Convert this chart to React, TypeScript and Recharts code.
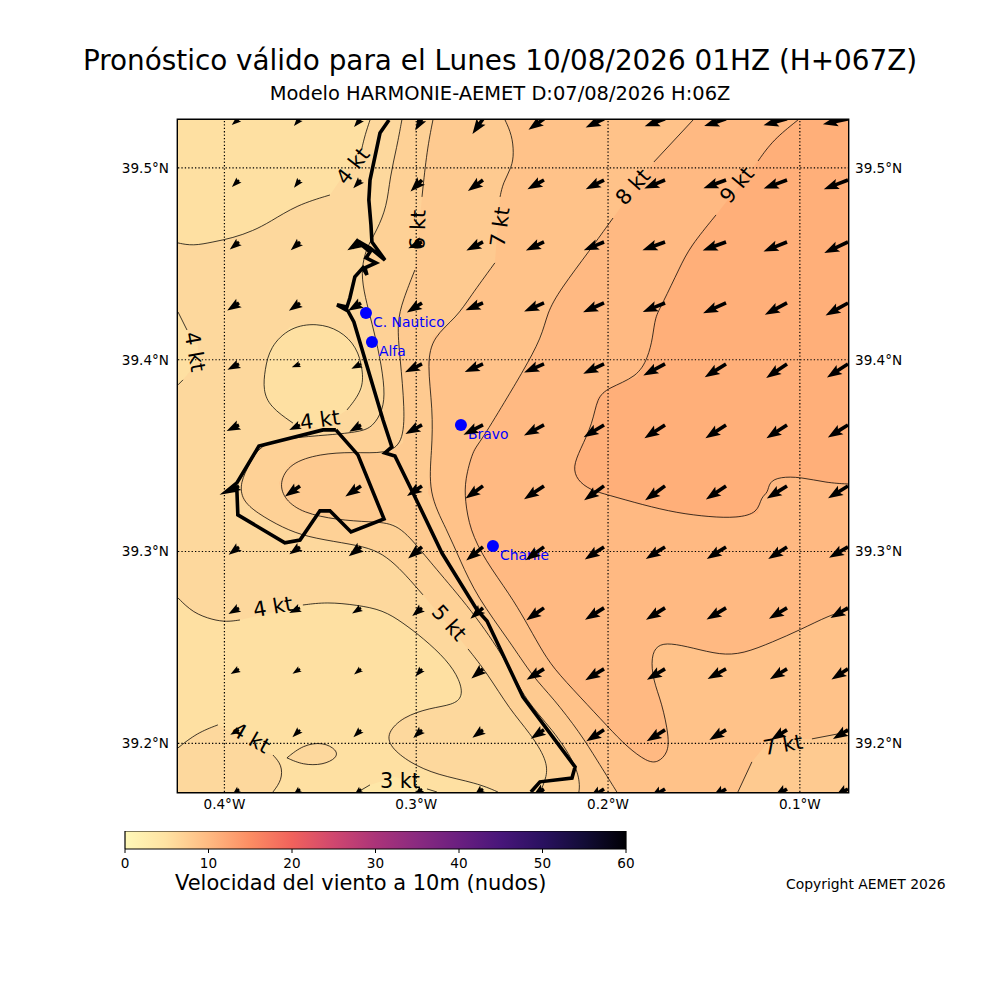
import { ScatterChart, Scatter, XAxis, YAxis, ReferenceArea } from 'recharts';

type Pt = [number, number];

const FONT = '"DejaVu Sans", sans-serif';

const lonTicks = [-0.4, -0.3, -0.2, -0.1];
const latTicks = [39.2, 39.3, 39.4, 39.5];
const lonDomain: Pt = [-0.4242, -0.0749];
const latDomain: Pt = [39.1746, 39.525];

// contour lines, [lon, lat], split where the label interrupts them
const c3a: Pt[] = [[-0.3304, 39.1746], [-0.3241, 39.1783]];
const c3b: Pt[] = [[-0.2944, 39.1762], [-0.2892, 39.1746]];
const c3gap: Pt[] = [[-0.3111, 39.1825]];

const c4topA: Pt[] = [[-0.3241, 39.525], [-0.3267, 39.5172], [-0.3283, 39.5104]];
const c4topB: Pt[] = [[-0.345, 39.4859], [-0.3622, 39.4807], [-0.3763, 39.4718], [-0.3851, 39.4672], [-0.3956, 39.4635], [-0.406, 39.4614], [-0.4164, 39.4593], [-0.4242, 39.4609]];

const c4leftA: Pt[] = [[-0.4242, 39.4249], [-0.4195, 39.4155]];
const c4leftGap: Pt[] = [[-0.4138, 39.4077], [-0.4138, 39.3988]];
const c4leftB: Pt[] = [[-0.4216, 39.3895], [-0.4242, 39.3869]];

const c4oval: Pt[] = [[-0.3361, 39.3738], [-0.3278, 39.3842], [-0.3278, 39.3947], [-0.3309, 39.4067], [-0.3398, 39.4155], [-0.3518, 39.4192], [-0.3658, 39.4171], [-0.3763, 39.4067], [-0.3789, 39.3947], [-0.3799, 39.3842], [-0.3763, 39.3754], [-0.3643, 39.367]];
const c4ovalGap: Pt[] = [[-0.3502, 39.3644]];

const c4lowA: Pt[] = [[-0.4242, 39.2758], [-0.4164, 39.268], [-0.406, 39.2643], [-0.3987, 39.2633], [-0.3919, 39.2643]];
const c4lowB: Pt[] = [[-0.3591, 39.2721], [-0.3466, 39.2737], [-0.3309, 39.2721], [-0.3173, 39.2695], [-0.3069, 39.2628], [-0.2965, 39.2549], [-0.284, 39.2435], [-0.2772, 39.233], [-0.2756, 39.2242], [-0.2809, 39.22], [-0.2929, 39.2184], [-0.3069, 39.2138], [-0.3153, 39.2054], [-0.3137, 39.1981], [-0.3033, 39.1898], [-0.2892, 39.1835], [-0.2683, 39.1793], [-0.2574, 39.1746]];

const c4cornerA: Pt[] = [[-0.4242, 39.1976], [-0.4143, 39.2054], [-0.4034, 39.2096]];
const c4cornerB: Pt[] = [[-0.3747, 39.1939], [-0.37, 39.1887], [-0.37, 39.1809], [-0.3747, 39.1746]];

const c4lobe: Pt[] = [[-0.3674, 39.1924], [-0.3591, 39.1991], [-0.3486, 39.2007], [-0.3413, 39.1965], [-0.3413, 39.1924], [-0.3486, 39.1887], [-0.3591, 39.1887], [-0.3674, 39.1924]];

const c5a: Pt[] = [[-0.3075, 39.525], [-0.3101, 39.5109], [-0.3137, 39.4953], [-0.3153, 39.4797], [-0.3205, 39.4677], [-0.3241, 39.4614], [-0.3267, 39.4557], [-0.3288, 39.4453], [-0.3267, 39.4327], [-0.3231, 39.4192], [-0.3189, 39.4015], [-0.3163, 39.3842], [-0.3173, 39.3738], [-0.3226, 39.365], [-0.3293, 39.3624], [-0.345, 39.3608], [-0.3674, 39.3592], [-0.3815, 39.3556], [-0.3867, 39.3462], [-0.3919, 39.3358], [-0.3909, 39.3269], [-0.3831, 39.3201], [-0.3695, 39.3123], [-0.357, 39.3076], [-0.3382, 39.3045], [-0.3241, 39.3019], [-0.3153, 39.2972], [-0.3069, 39.2894], [-0.2965, 39.2774]];
const c5b: Pt[] = [[-0.273, 39.2492], [-0.2631, 39.2367], [-0.2511, 39.2174], [-0.2407, 39.2054], [-0.2318, 39.1913], [-0.2318, 39.1825], [-0.2355, 39.1746]];

const c6a: Pt[] = [[-0.2913, 39.525], [-0.2944, 39.5094], [-0.297, 39.4849]];
const c6b: Pt[] = [[-0.3007, 39.4468], [-0.3069, 39.4312], [-0.3101, 39.4192], [-0.3085, 39.4015], [-0.3059, 39.3738], [-0.3069, 39.3566], [-0.3153, 39.3509], [-0.3335, 39.3519], [-0.3502, 39.3509], [-0.3658, 39.3462], [-0.3716, 39.3358], [-0.3685, 39.3269], [-0.3591, 39.3201], [-0.3413, 39.3165], [-0.3241, 39.3154], [-0.3101, 39.3149], [-0.2991, 39.3024], [-0.2892, 39.2904], [-0.2683, 39.2659], [-0.2511, 39.2398], [-0.2433, 39.2226], [-0.2287, 39.207], [-0.2172, 39.1898], [-0.2146, 39.1793], [-0.2152, 39.1746]];

const c7a: Pt[] = [[-0.2537, 39.525], [-0.2501, 39.5172], [-0.2491, 39.5078], [-0.2501, 39.5005], [-0.2548, 39.4922], [-0.2563, 39.4849]];
const c7b: Pt[] = [[-0.259, 39.4505], [-0.272, 39.4327], [-0.2788, 39.4223], [-0.2913, 39.4119], [-0.2944, 39.3983], [-0.2913, 39.3738], [-0.2918, 39.353], [-0.2939, 39.3305], [-0.284, 39.3113], [-0.2772, 39.2956], [-0.2683, 39.2763], [-0.2511, 39.2529], [-0.2392, 39.2346], [-0.2287, 39.2237], [-0.2146, 39.2054], [-0.2058, 39.1913], [-0.1954, 39.1746]];

const c7cornerA: Pt[] = [[-0.1323, 39.1746], [-0.125, 39.1903]];
const c7cornerGap: Pt[] = [[-0.1156, 39.2018]];
const c7cornerB: Pt[] = [[-0.0937, 39.2023], [-0.0749, 39.2059]];

const c8a: Pt[] = [[-0.1557, 39.525], [-0.1761, 39.5031]];
const c8b: Pt[] = [[-0.1974, 39.4739], [-0.2094, 39.4572], [-0.2251, 39.4364], [-0.2318, 39.4244], [-0.2344, 39.4119], [-0.2449, 39.3931], [-0.2511, 39.3827], [-0.2668, 39.3566], [-0.2704, 39.353], [-0.2746, 39.3373], [-0.2746, 39.3269], [-0.272, 39.3113], [-0.2642, 39.2956], [-0.2511, 39.2774], [-0.2433, 39.2643], [-0.2355, 39.2502], [-0.2287, 39.2393], [-0.2146, 39.2242], [-0.2, 39.2085], [-0.1901, 39.1981], [-0.1797, 39.1903], [-0.174, 39.1898], [-0.1688, 39.195], [-0.1682, 39.2033], [-0.1719, 39.221], [-0.1766, 39.233], [-0.1776, 39.245], [-0.1745, 39.2513], [-0.1677, 39.2523], [-0.1557, 39.2497], [-0.1416, 39.2461], [-0.1297, 39.2466], [-0.114, 39.2529], [-0.0999, 39.2591], [-0.0843, 39.2669], [-0.0749, 39.2695]];

const c9a: Pt[] = [[-0.101, 39.525], [-0.114, 39.5146], [-0.1218, 39.5036]];
const c9b: Pt[] = [[-0.1437, 39.4755], [-0.1573, 39.4588], [-0.1625, 39.4484], [-0.1719, 39.4286], [-0.1755, 39.4223], [-0.1766, 39.4119], [-0.1792, 39.4009], [-0.1849, 39.391], [-0.2, 39.3853], [-0.2058, 39.3801], [-0.2079, 39.367], [-0.2146, 39.353], [-0.2183, 39.3441], [-0.2162, 39.3373], [-0.2094, 39.3321], [-0.2, 39.3295], [-0.1818, 39.3243], [-0.1641, 39.3201], [-0.1469, 39.318], [-0.1328, 39.3175], [-0.1218, 39.3201], [-0.1203, 39.3285], [-0.1166, 39.3305], [-0.1161, 39.3363], [-0.1104, 39.3389], [-0.0999, 39.3389], [-0.0859, 39.3358], [-0.0749, 39.3352]];

// coast
const coast: Pt[] = [[-0.3142, 39.525], [-0.3189, 39.5182], [-0.3241, 39.4937], [-0.3247, 39.4833], [-0.3236, 39.4703], [-0.3231, 39.4614], [-0.3163, 39.452], [-0.3241, 39.4583], [-0.3304, 39.4619], [-0.3335, 39.4583], [-0.3304, 39.4614], [-0.3241, 39.4562], [-0.3262, 39.4531], [-0.321, 39.4505], [-0.3267, 39.4479], [-0.3257, 39.4442], [-0.3278, 39.4479], [-0.332, 39.4432], [-0.3346, 39.4322], [-0.3361, 39.4275], [-0.3413, 39.4286], [-0.3356, 39.4254], [-0.3325, 39.4197], [-0.3173, 39.3686], [-0.3127, 39.3545], [-0.3163, 39.3514], [-0.3111, 39.3498], [-0.2981, 39.3232], [-0.2866, 39.2992], [-0.2683, 39.2695], [-0.2631, 39.2638], [-0.2444, 39.2242], [-0.2172, 39.1877], [-0.2188, 39.1819], [-0.2355, 39.1799], [-0.2402, 39.1746]];
const bay: Pt[] = [[-0.3419, 39.3634], [-0.3486, 39.3634], [-0.382, 39.355], [-0.3935, 39.3358], [-0.3992, 39.3311], [-0.3935, 39.3321], [-0.393, 39.3191], [-0.3685, 39.3045], [-0.3606, 39.306], [-0.3502, 39.3212], [-0.345, 39.3212], [-0.334, 39.3102], [-0.3168, 39.317], [-0.3304, 39.3504], [-0.3419, 39.3634]];

const stations = [
  { name: 'C. Nautico', lon: -0.3262, lat: 39.4244 },
  { name: 'Alfa', lon: -0.3231, lat: 39.4093 },
  { name: 'Bravo', lon: -0.2767, lat: 39.366 },
  { name: 'Charlie', lon: -0.26, lat: 39.3029 },
];

const contourLabels = [
  { text: '4 kt', lon: -0.333, lat: 39.501, angle: -52 },
  { text: '6 kt', lon: -0.2991, lat: 39.4677, angle: -88 },
  { text: '7 kt', lon: -0.2563, lat: 39.4692, angle: -82 },
  { text: '8 kt', lon: -0.187, lat: 39.4901, angle: -48 },
  { text: '9 kt', lon: -0.1328, lat: 39.4911, angle: -50 },
  { text: '4 kt', lon: -0.4154, lat: 39.4041, angle: 80 },
  { text: '4 kt', lon: -0.3502, lat: 39.3686, angle: -8 },
  { text: '4 kt', lon: -0.3747, lat: 39.2711, angle: -10 },
  { text: '5 kt', lon: -0.2829, lat: 39.2628, angle: 48 },
  { text: '4 kt', lon: -0.3862, lat: 39.2028, angle: 30 },
  { text: '3 kt', lon: -0.3085, lat: 39.1804, angle: 0 },
  { text: '7 kt', lon: -0.1088, lat: 39.1991, angle: -10 },
];

// wind grid
const windLons = [-0.3924, -0.3606, -0.3288, -0.297, -0.2652, -0.2334, -0.2021, -0.1703, -0.1385, -0.1067, -0.0749];
const windLats = [39.5256, 39.4937, 39.4614, 39.4296, 39.3978, 39.366, 39.3342, 39.3024, 39.2706, 39.2388, 39.207, 39.1762];
const windSpeed = [
  [3.5, 3.5, 4, 5, 6.8, 7, 7.5, 8, 8.5, 9, 9.5],
  [3.7, 3.6, 4.2, 6, 6.9, 7, 7.6, 8.3, 8.9, 9.2, 9.6],
  [4.4, 4.6, 5.9, 5.6, 6.9, 7.4, 8.1, 8.9, 9.2, 9.4, 9.7],
  [5.2, 5, 5.6, 6.6, 7, 8, 8.5, 8.9, 9.3, 9.3, 9.5],
  [4.8, 3.3, 4, 7, 7.4, 8, 8.5, 9.1, 9.3, 9.3, 9.3],
  [5.1, 4.4, 5, 7, 8.1, 8.4, 8.8, 9.1, 9.1, 9.1, 8.8],
  [4.8, 6.8, 7, 6.7, 8, 8.9, 9.1, 9.1, 9, 8.8, 8.7],
  [4.8, 4.8, 5.7, 6.7, 8, 8.4, 8.5, 8.4, 8.4, 8.3, 8.1],
  [4.5, 4.4, 3.9, 4.7, 6.2, 8, 8.3, 8.3, 8.4, 7.8, 7.5],
  [3.6, 3.3, 3.3, 3.7, 5.6, 7.6, 8.1, 7.8, 7.8, 7.4, 7.3],
  [3.7, 3.9, 3.9, 4.4, 4.9, 5.9, 7.8, 8, 7.2, 7, 6.5],
  [3, 3, 3, 3.5, 4.5, 5.5, 7, 7, 6.5, 6, 6],
];
const windFrom = [
  [50, 40, 40, 30, 35, 55, 65, 70, 72, 75, 78],
  [45, 38, 43, 45, 54, 61, 63, 68, 70, 70, 69],
  [51, 48, 59, 65, 63, 65, 68, 70, 70, 68, 65],
  [57, 55, 59, 58, 67, 67, 66, 68, 66, 62, 61],
  [63, 68, 63, 64, 66, 67, 65, 62, 58, 56, 57],
  [64, 65, 60, 61, 63, 62, 59, 57, 57, 57, 58],
  [59, 55, 56, 56, 54, 56, 54, 54, 56, 58, 58],
  [53, 55, 53, 50, 51, 54, 57, 58, 58, 57, 60],
  [60, 65, 58, 50, 49, 55, 58, 58, 59, 59, 60],
  [59, 57, 51, 41, 50, 58, 59, 59, 61, 59, 57],
  [61, 46, 46, 47, 53, 56, 57, 58, 59, 58, 59],
  [50, 50, 50, 50, 50, 55, 57, 58, 58, 58, 58],
];

const cbTicks = [0, 10, 20, 30, 40, 50, 60];
const cbStops = [
  ['0%', '#fef8b8'], ['8%', '#fee3a3'], ['16.7%', '#feba82'], ['25%', '#fc8d63'], ['33.3%', '#f1625c'],
  ['41.7%', '#d0476f'], ['50%', '#ab3479'], ['58.3%', '#8a2a80'], ['66.7%', '#6a1f80'], ['75%', '#48167a'],
  ['83.3%', '#2a1160'], ['91.7%', '#120c36'], ['100%', '#000004'],
];
const cbBox = [
  { v: 0, y: 0 },
  { v: 60, y: 0 },
  { v: 60, y: 1 },
  { v: 0, y: 1 },
  { v: 0, y: 0 },
];

const TR: Pt = [lonDomain[1], latDomain[1]];
const BR: Pt = [lonDomain[1], latDomain[0]];
const TL: Pt = [lonDomain[0], latDomain[1]];
const BL: Pt = [lonDomain[0], latDomain[0]];

const toRows = (pts: Pt[]) => pts.map(([lon, lat]) => ({ lon, lat }));

const fills: { color: string; pts: Pt[] }[] = [
  { color: '#fdd89d', pts: [TL, TR, BR, BL] },
  { color: '#fee0a2', pts: [...c4topA, ...c4topB, TL] },
  { color: '#fee0a2', pts: [...c4leftA, ...c4leftGap, ...c4leftB] },
  { color: '#fee0a2', pts: [...c4oval, ...c4ovalGap] },
  { color: '#fee0a2', pts: [...c4lowA, ...c4lowB, BL] },
  { color: '#fdd89d', pts: [...c4cornerA, ...c4cornerB, BL] },
  { color: '#fdd89d', pts: c4lobe },
  { color: '#fee7a8', pts: [...c3a, ...c3gap, ...c3b] },
  { color: '#fed196', pts: [...c5a, ...c5b, BR, TR] },
  { color: '#feca90', pts: [...c6a, ...c6b, BR, TR] },
  { color: '#ffc289', pts: [...c7a, ...c7b, BR, TR] },
  { color: '#feca90', pts: [...c7cornerA, ...c7cornerGap, ...c7cornerB, BR] },
  { color: '#ffb982', pts: [...c8a, ...c8b, TR] },
  { color: '#ffaf79', pts: [...c9a, ...c9b, TR] },
];

const contourLines: Pt[][] = [c3a, c3b, c4topA, c4topB, c4leftA, c4leftB, c4oval, c4lowA, c4lowB, c4cornerA, c4cornerB, c4lobe, c5a, c5b, c6a, c6b, c7a, c7b, c7cornerA, c7cornerB, c8a, c8b, c9a, c9b];

const gridLines: Pt[][] = [
  ...lonTicks.map((v): Pt[] => [[v, latDomain[0]], [v, latDomain[1]]]),
  ...latTicks.map((v): Pt[] => [[lonDomain[0], v], [lonDomain[1], v]]),
];

const windRows = windLats.flatMap((lat, r) =>
  windLons.map((lon, c) => ({ lon, lat, speed: windSpeed[r][c], from: windFrom[r][c] }))
);

const noDot = () => <g />;

function WindArrow(props: any) {
  const { cx, cy, payload } = props;
  const L = payload.speed * 2.7;
  const f = L < 15 ? L / 15 : 1;
  const hl = 15 * f;
  const ha = 13 * f;
  const hw = 5.4 * f;
  const sw = 1.8 * f;
  const d = `M0 ${-sw}L${L - ha} ${-sw}L${L - hl} ${-hw}L${L} 0L${L - hl} ${hw}L${L - ha} ${sw}L0 ${sw}Z`;
  const below = 90 - payload.from;
  return <path d={d} fill="#000" transform={`translate(${cx} ${cy}) rotate(${180 - below})`} />;
}

function ContourLabel(props: any) {
  const { cx, cy, payload } = props;
  return (
    <text
      x={cx}
      y={cy}
      fontSize={20.8}
      fontFamily={FONT}
      textAnchor="middle"
      dominantBaseline="central"
      fill="#000"
      transform={`rotate(${payload.angle} ${cx} ${cy})`}
    >
      {payload.text}
    </text>
  );
}

function StationDot(props: any) {
  const { cx, cy } = props;
  return <circle cx={cx} cy={cy} r={6} fill="#0000ff" />;
}

function StationName(props: any) {
  const { cx, cy, payload } = props;
  return (
    <text x={cx + 7} y={cy + 14} fontSize={13.9} fontFamily={FONT} fill="#0000ff">
      {payload.name}
    </text>
  );
}

const abs = (left: number, top: number, extra: any = {}) => ({
  position: 'absolute' as const,
  left,
  top,
  fontFamily: FONT,
  color: '#000',
  whiteSpace: 'nowrap' as const,
  lineHeight: 1,
  ...extra,
});

export default function App() {
  return (
    <div style={{ position: 'absolute', left: 0, top: 0, width: 1000, height: 1000, background: '#fff' }}>
      <svg width={0} height={0} style={{ position: 'absolute' }}>
        <defs>
          <linearGradient id="magmaBar" x1="0" y1="0" x2="1" y2="0">
            {cbStops.map(([o, c]) => (
              <stop key={o} offset={o} stopColor={c} />
            ))}
          </linearGradient>
        </defs>
      </svg>

      <div style={abs(500, 47, { fontSize: 27.85, transform: 'translateX(-50%)' })}>
        Pronóstico válido para el Lunes 10/08/2026 01HZ (H+067Z)
      </div>
      <div style={abs(500, 84, { fontSize: 19.45, transform: 'translateX(-50%)' })}>
        Modelo HARMONIE-AEMET D:07/08/2026 H:06Z
      </div>

      <ScatterChart width={1000} height={1000} margin={{ top: 120, left: 118, right: 92, bottom: 178 }} style={{ position: 'absolute', left: 0, top: 0 }}>
        <XAxis
          type="number"
          dataKey="lon"
          domain={lonDomain}
          ticks={lonTicks}
          allowDataOverflow
          height={30}
          tickLine={false}
          axisLine={false}
          interval={0}
          tickMargin={1}
          tick={{ fill: '#000', fontSize: 13.6, fontFamily: FONT }}
          tickFormatter={(v: number) => `${Math.abs(v).toFixed(1)}°W`}
        />
        <YAxis
          type="number"
          dataKey="lat"
          domain={latDomain}
          ticks={latTicks}
          allowDataOverflow
          width={60}
          tickLine={false}
          axisLine={false}
          interval={0}
          tickMargin={3}
          tick={{ fill: '#000', fontSize: 13.6, fontFamily: FONT }}
          tickFormatter={(v: number) => `${v.toFixed(1)}°N`}
        />
        <YAxis
          yAxisId="right"
          orientation="right"
          type="number"
          domain={latDomain}
          ticks={latTicks}
          allowDataOverflow
          width={60}
          tickLine={false}
          axisLine={false}
          interval={0}
          tickMargin={1}
          tick={{ fill: '#000', fontSize: 13.6, fontFamily: FONT }}
          tickFormatter={(v: number) => `${v.toFixed(1)}°N`}
        />

        <ReferenceArea x1={lonDomain[0]} x2={lonDomain[1]} y1={latDomain[0]} y2={latDomain[1]} fill="none" stroke="#000" strokeWidth={2.8} fillOpacity={0} />

        {fills.map((f, i) => (
          <Scatter
            key={`fill-${i}`}
            data={toRows(f.pts)}
            shape={noDot}
            line={{ fill: f.color, stroke: 'none' }}
            lineJointType="linear"
            isAnimationActive={false}
          />
        ))}

        {contourLines.map((pts, i) => (
          <Scatter
            key={`contour-${i}`}
            data={toRows(pts)}
            shape={noDot}
            line={{ stroke: '#000', strokeWidth: 0.75, fill: 'none' }}
            lineJointType="basis"
            isAnimationActive={false}
          />
        ))}

        <Scatter data={toRows(coast)} shape={noDot} line={{ stroke: '#000', strokeWidth: 3.6, fill: 'none' }} lineJointType="linear" isAnimationActive={false} />
        <Scatter data={toRows(bay)} shape={noDot} line={{ stroke: '#000', strokeWidth: 3.6, fill: 'none' }} lineJointType="linear" isAnimationActive={false} />

        {gridLines.map((pts, i) => (
          <Scatter
            key={`grid-${i}`}
            data={toRows(pts)}
            shape={noDot}
            line={{ stroke: '#000', strokeWidth: 1.2, strokeDasharray: '1.3 2.1', fill: 'none' }}
            lineJointType="linear"
            isAnimationActive={false}
          />
        ))}

        <Scatter data={stations} shape={<StationName />} isAnimationActive={false} />
        <Scatter data={contourLabels} shape={<ContourLabel />} isAnimationActive={false} />
        <Scatter data={windRows} shape={<WindArrow />} isAnimationActive={false} />
        <Scatter data={stations} shape={<StationDot />} isAnimationActive={false} />
      </ScatterChart>

      <ScatterChart
        width={581}
        height={58}
        margin={{ top: 0, left: 40, right: 40, bottom: 0 }}
        style={{ position: 'absolute', left: 85, top: 831 }}
      >
        <XAxis
          type="number"
          dataKey="v"
          domain={[0, 60]}
          ticks={cbTicks}
          height={40}
          interval={0}
          axisLine={false}
          tickSize={4}
          tick={{ fill: '#000', fontSize: 13.6, fontFamily: FONT, dy: 3 }}
          tickLine={{ stroke: '#000' }}
        />
        <YAxis hide type="number" dataKey="y" domain={[0, 1]} />
        <Scatter
          data={cbBox}
          shape={noDot}
          line={{ fill: 'url(#magmaBar)', stroke: '#000', strokeWidth: 1.2 }}
          lineJointType="linear"
          isAnimationActive={false}
        />
      </ScatterChart>

      <div style={abs(175, 873, { fontSize: 20.95 })}>Velocidad del viento a 10m (nudos)</div>
      <div style={abs(786, 878, { fontSize: 13.9 })}>Copyright AEMET 2026</div>
    </div>
  );
}
